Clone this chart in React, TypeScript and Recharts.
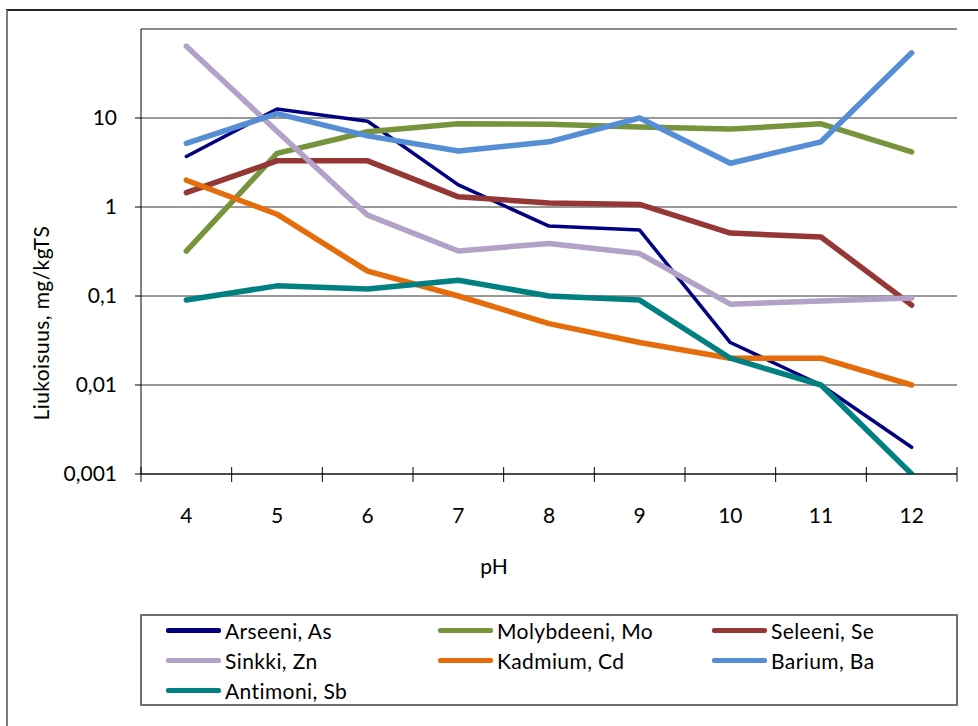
import { LineChart, Line, XAxis, YAxis, CartesianGrid, ReferenceLine } from 'recharts';

// pH steps and leached amounts per element (mg/kgTS)
const ph = ['4', '5', '6', '7', '8', '9', '10', '11', '12'];
const arseeni = [3.7, 12.6, 9.2, 1.77, 0.61, 0.55, 0.03, 0.01, 0.002];
const molybdeeni = [0.32, 4.0, 7.0, 8.6, 8.5, 7.9, 7.5, 8.6, 4.15];
const seleeni = [1.45, 3.3, 3.3, 1.3, 1.11, 1.07, 0.51, 0.46, 0.079];
const sinkki = [64, 7.1, 0.81, 0.32, 0.39, 0.3, 0.081, 0.088, 0.095];
const kadmium = [2, 0.83, 0.19, 0.1, 0.049, 0.03, 0.02, 0.02, 0.01];
const barium = [5.2, 11.2, 6.3, 4.25, 5.4, 10, 3.1, 5.4, 54];
const antimoni = [0.09, 0.13, 0.12, 0.15, 0.1, 0.09, 0.02, 0.01, 0.001];

const yTicks = [0.001, 0.01, 0.1, 1, 10];

const series = [
  { key: 'as', name: 'Arseeni, As', values: arseeni, color: '#000080', width: 3.5 },
  { key: 'mo', name: 'Molybdeeni, Mo', values: molybdeeni, color: '#77933C', width: 5.5 },
  { key: 'se', name: 'Seleeni, Se', values: seleeni, color: '#953735', width: 5.5 },
  { key: 'zn', name: 'Sinkki, Zn', values: sinkki, color: '#B3A2C7', width: 5.5 },
  { key: 'cd', name: 'Kadmium, Cd', values: kadmium, color: '#E46C0A', width: 5.5 },
  { key: 'ba', name: 'Barium, Ba', values: barium, color: '#558ED5', width: 5.5 },
  { key: 'sb', name: 'Antimoni, Sb', values: antimoni, color: '#008080', width: 5.5 },
];

const rows = ph.map((p, i) => {
  const row: any = { ph: p };
  series.forEach((s) => (row[s.key] = s.values[i]));
  return row;
});

const FONT = 'Lato, "Open Sans", sans-serif';
const FS = 21;
const PLOT_LEFT = 141;
const PLOT_RIGHT = 957;
const STEP = (PLOT_RIGHT - PLOT_LEFT) / ph.length;

const fmt = (v: number) => String(v).replace('.', ',');

// category labels with tick marks drawn between the categories
const XTick = (props: any) => {
  const { x, y, payload, index } = props;
  const left = x - STEP / 2;
  return (
    <g>
      <line x1={left} x2={left} y1={y - 7} y2={y + 8} stroke="#000" strokeWidth={1} />
      {index === ph.length - 1 && (
        <line x1={x + STEP / 2} x2={x + STEP / 2} y1={y - 7} y2={y + 8} stroke="#000" strokeWidth={1} />
      )}
      <text x={x} y={y + 49} textAnchor="middle" fontSize={FS} fontFamily={FONT} fill="#000">
        {payload.value}
      </text>
    </g>
  );
};

const yLabel = () => (
  <text
    x={40}
    y={323}
    transform="rotate(-90 40 323)"
    textAnchor="middle"
    dominantBaseline="central"
    fontSize={FS}
    fontFamily={FONT}
    letterSpacing={0.4}
    fill="#000"
  >
    Liukoisuus, mg/kgTS
  </text>
);

const xLabel = () => (
  <text x={494} y={574} textAnchor="middle" fontSize={FS} fontFamily={FONT} fill="#000">
    pH
  </text>
);

export default function App() {
  return (
    <div style={{ position: 'absolute', left: 0, top: 0, width: 978, height: 726, overflow: 'hidden', background: '#fff' }}>
      <div
        style={{
          position: 'absolute',
          left: 6,
          top: 9,
          width: 1000,
          height: 800,
          borderLeft: '2px solid #7a7a7a',
          borderTop: '2px solid #222',
        }}
      />
      <div style={{ position: 'absolute', left: 0, top: 0 }}>
        <LineChart width={978} height={600} data={rows} margin={{ top: 29, right: 21, bottom: 0, left: 0 }}>
          <CartesianGrid vertical={false} stroke="#333" strokeOpacity={1} />
          <ReferenceLine y={100} stroke="#8a8a8a" strokeWidth={1.5} />
          <XAxis
            dataKey="ph"
            height={126}
            tickSize={0}
            tickMargin={0}
            tick={<XTick />}
            axisLine={{ stroke: '#000' }}
            interval={0}
            padding={{ left: STEP / 2, right: STEP / 2 }}
            label={xLabel}
          />
          <YAxis
            scale="log"
            domain={[0.001, 100]}
            ticks={yTicks}
            tickFormatter={fmt}
            width={141}
            tickSize={6}
            tickMargin={18}
            tickLine={{ stroke: '#000' }}
            axisLine={{ stroke: '#000' }}
            tick={{ fontSize: FS, fontFamily: FONT, fill: '#000' }}
            allowDataOverflow
            label={yLabel}
          />
          <YAxis
            yAxisId="frame"
            orientation="right"
            width={0}
            tick={false}
            tickLine={false}
            axisLine={{ stroke: '#8a8a8a', strokeWidth: 1.5 }}
            domain={[0, 1]}
          />
          {series.map((s) => (
            <Line
              key={s.key}
              type="linear"
              dataKey={s.key}
              name={s.name}
              stroke={s.color}
              strokeWidth={s.width}
              strokeLinecap="round"
              strokeLinejoin="round"
              dot={false}
              activeDot={false}
              isAnimationActive={false}
            />
          ))}
        </LineChart>
      </div>
      <div
        style={{
          position: 'absolute',
          left: 140,
          top: 614,
          width: 818,
          height: 92,
          boxSizing: 'border-box',
          border: '2px solid #6f6f6f',
          display: 'grid',
          gridTemplateColumns: '272px 274px 1fr',
          gridAutoRows: '30px',
          paddingLeft: 24,
          fontFamily: FONT,
          fontSize: FS,
          letterSpacing: 0.4,
          color: '#000',
        }}
      >
        {series.map((s) => (
          <div key={s.key} style={{ display: 'flex', alignItems: 'center', height: 30, marginTop: -1 }}>
            <span style={{ display: 'inline-block', width: 55, height: 5, background: s.color, borderRadius: 2 }} />
            <span style={{ marginLeft: 4, whiteSpace: 'nowrap' }}>{s.name}</span>
          </div>
        ))}
      </div>
    </div>
  );
}
